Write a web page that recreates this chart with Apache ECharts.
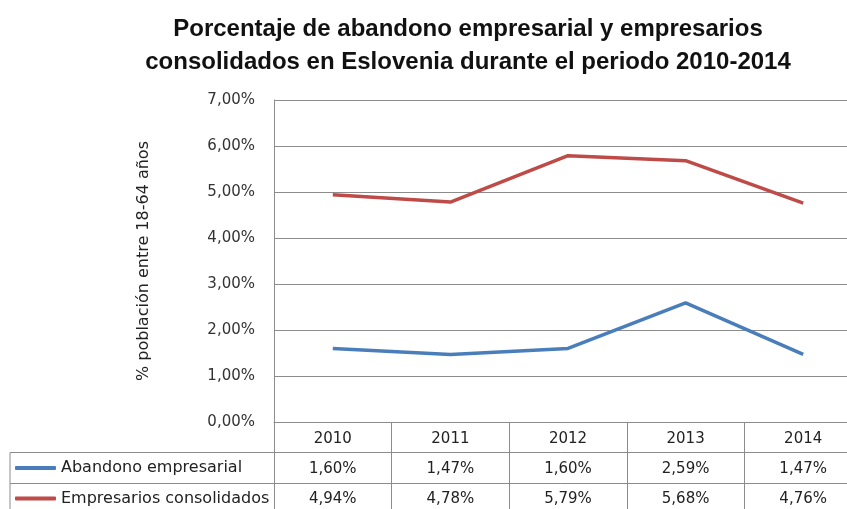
<!DOCTYPE html>
<html>
<head>
<meta charset="utf-8">
<script src="https://cdn.jsdelivr.net/npm/echarts@6/dist/echarts.min.js"></script>
<style>
  html, body { margin: 0; padding: 0; background: #fff; }
  #chart { width: 847px; height: 509px; }
</style>
</head>
<body>
<div id="chart"></div>
<script>
const years = ['2010', '2011', '2012', '2013', '2014'];
const abandono = [1.60, 1.47, 1.60, 2.59, 1.47];
const consolidados = [4.94, 4.78, 5.79, 5.68, 4.76];
const seriesNames = ['Abandono empresarial', 'Empresarios consolidados'];
const seriesColors = ['#4a7ebb', '#be4b48'];

// plot area / table layout
const plotLeft = 274, plotTop = 100, plotH = 322, bandW = 117.6;
const rowH = 30.5, tableLeft = 10;
const lineColor = '#8c8c8c';
const font = 'DejaVu Sans';

function pct(v) {
  return v.toFixed(2).replace('.', ',') + '%';
}

const chart = echarts.init(document.getElementById('chart'), null, { renderer: 'canvas' });

const rowAxis = (offset, values, margin) => ({
  type: 'category',
  position: 'bottom',
  offset: offset,
  data: years,
  axisLine: { show: true, lineStyle: { color: lineColor, width: 1 } },
  axisTick: { show: false },
  axisLabel: {
    margin: margin, fontFamily: font, fontSize: 15, color: '#222',
    formatter: (v, i) => pct(values[i])
  }
});

const legendRow = (i) => ({
  orient: 'horizontal', left: 15, top: plotTop + plotH + rowH * (i + 1) + 7.5, padding: 0,
  icon: 'roundRect', itemWidth: 41, itemHeight: 4,
  data: [seriesNames[i]],
  textStyle: { fontFamily: font, fontSize: 16, color: '#222' }
});

const option = {
  animation: false,
  title: {
    text: 'Porcentaje de abandono empresarial y empresarios\nconsolidados en Eslovenia durante el periodo 2010-2014',
    left: 463, top: 8, textAlign: 'center',
    textStyle: { fontFamily: 'Liberation Sans', fontWeight: 'bold', fontSize: 24, lineHeight: 33, color: '#111' }
  },
  legend: [legendRow(0), legendRow(1)],
  grid: {
    left: plotLeft, top: plotTop, width: bandW * years.length, height: plotH,
    outerBoundsMode: 'none'
  },
  xAxis: [
    {
      type: 'category',
      data: years,
      boundaryGap: true,
      axisLine: { show: true, lineStyle: { color: lineColor, width: 1 } },
      axisTick: { show: true, inside: false, length: 95, lineStyle: { color: lineColor } },
      axisLabel: { margin: 9.5, fontFamily: font, fontSize: 15, color: '#222' }
    },
    rowAxis(rowH, abandono, 9),
    rowAxis(rowH * 2 + 0.5, consolidados, 8)
  ],
  yAxis: {
    type: 'value',
    min: 0, max: 7, interval: 1,
    name: '% población entre 18-64 años',
    nameLocation: 'middle', nameGap: 122, nameRotate: 90,
    nameTextStyle: { fontFamily: font, fontSize: 16, color: '#222' },
    axisLine: { show: true, lineStyle: { color: lineColor, width: 1 } },
    axisTick: { show: false },
    splitLine: { lineStyle: { color: lineColor, width: 1 } },
    axisLabel: { margin: 19, fontFamily: font, fontSize: 15, color: '#333', formatter: v => pct(v) }
  },
  graphic: [
    { type: 'line', shape: { x1: tableLeft, y1: plotTop + plotH + rowH, x2: plotLeft, y2: plotTop + plotH + rowH }, style: { stroke: lineColor, lineWidth: 1 } },
    { type: 'line', shape: { x1: tableLeft, y1: plotTop + plotH + rowH * 2 + 0.5, x2: plotLeft, y2: plotTop + plotH + rowH * 2 + 0.5 }, style: { stroke: lineColor, lineWidth: 1 } },
    { type: 'line', shape: { x1: tableLeft, y1: plotTop + plotH + rowH, x2: tableLeft, y2: 520 }, style: { stroke: lineColor, lineWidth: 1 } }
  ],
  series: [
    {
      name: seriesNames[0], type: 'line', data: abandono,
      symbol: 'none', lineStyle: { color: seriesColors[0], width: 3.5 }, itemStyle: { color: seriesColors[0] }
    },
    {
      name: seriesNames[1], type: 'line', data: consolidados,
      symbol: 'none', lineStyle: { color: seriesColors[1], width: 3.5 }, itemStyle: { color: seriesColors[1] }
    }
  ]
};

chart.setOption(option);
</script>
</body>
</html>
